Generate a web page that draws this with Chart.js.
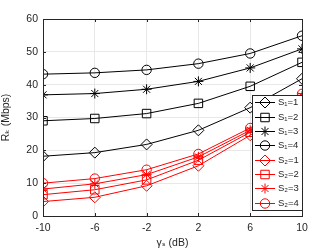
<!DOCTYPE html>
<html>
<head>
<meta charset="utf-8">
<script src="https://cdn.jsdelivr.net/npm/chart.js@4/dist/chart.umd.min.js"></script>
<style>
html,body{margin:0;padding:0;background:#fff;}
#c{display:block;}
</style>
</head>
<body>
<canvas id="c" width="333" height="250"></canvas>
<script>
const categories = [-10, -6, -2, 2, 6, 10];
const yTicks = [0, 10, 20, 30, 40, 50, 60];
const s1_1 = [18.2, 19.3, 21.8, 26.1, 33.0, 41.8];
const s1_2 = [29.0, 29.7, 31.2, 34.3, 39.5, 46.8];
const s1_3 = [36.9, 37.3, 38.6, 41.0, 45.1, 50.9];
const s1_4 = [43.2, 43.6, 44.5, 46.4, 49.5, 54.9];
const s2_1 = [4.4, 5.7, 9.2, 15.3, 24.6, 35.3];
const s2_2 = [6.5, 8.0, 11.0, 17.0, 25.5, 36.0];
const s2_3 = [8.2, 9.8, 12.6, 18.0, 26.1, 36.5];
const s2_4 = [10.0, 11.4, 14.1, 18.9, 26.8, 37.2];
const seriesLabels = ['S\u2081=1','S\u2081=2','S\u2081=3','S\u2081=4','S\u2082=1','S\u2082=2','S\u2082=3','S\u2082=4'];
const seriesData = [s1_1, s1_2, s1_3, s1_4, s2_1, s2_2, s2_3, s2_4];
const styles = ['rectRot','rect','star','circle','rectRot','rect','star','circle'];
const colors = ['#000000','#000000','#000000','#000000','#ff0000','#ff0000','#ff0000','#ff0000'];
const radiusFor = {rectRot: 5.5, rect: 6, star: 5, circle: 4.7};

const datasets = seriesData.map((d, i) => ({
  label: seriesLabels[i],
  data: categories.map((x, j) => ({x: x, y: d[j]})),
  borderColor: colors[i],
  backgroundColor: 'rgba(0,0,0,0)',
  borderWidth: 1,
  pointStyle: styles[i],
  pointRadius: radiusFor[styles[i]],
  pointBorderWidth: 1,
  pointBorderColor: colors[i],
  pointBackgroundColor: 'rgba(0,0,0,0)',
  fill: false,
  tension: 0
}));

const boxPlugin = {
  id: 'box',
  afterDraw(chart) {
    const {ctx, chartArea: a} = chart;
    ctx.save();
    ctx.strokeStyle = '#262626';
    ctx.lineWidth = 1;
    ctx.strokeRect(Math.round(a.left) + 0.5, Math.round(a.top) + 0.5, Math.round(a.right - a.left), Math.round(a.bottom - a.top));
    const xs = chart.scales.x, ys = chart.scales.y;
    ctx.beginPath();
    categories.forEach(v => {
      const px = Math.round(xs.getPixelForValue(v)) + 0.5;
      ctx.moveTo(px, a.bottom); ctx.lineTo(px, a.bottom - 3);
      ctx.moveTo(px, a.top); ctx.lineTo(px, a.top + 3);
    });
    yTicks.forEach(v => {
      const py = Math.round(ys.getPixelForValue(v)) + 0.5;
      ctx.moveTo(a.left, py); ctx.lineTo(a.left + 3, py);
      ctx.moveTo(a.right, py); ctx.lineTo(a.right - 3, py);
    });
    ctx.stroke();

    // legend
    const lx = 252, ly = 95, lw = 50, lh = 115;
    ctx.fillStyle = '#ffffff';
    ctx.fillRect(lx, ly, lw, lh);
    ctx.strokeRect(lx + 0.5, ly + 0.5, lw, lh);
    const step = lh / seriesLabels.length;
    ctx.font = '9.5px "Liberation Sans", Arial, sans-serif';
    ctx.textBaseline = 'middle';
    ctx.textAlign = 'left';
    seriesLabels.forEach((lab, i) => {
      const cy = Math.round(ly + step * (i + 0.5)) + 0.5;
      ctx.strokeStyle = colors[i];
      ctx.lineWidth = 1;
      ctx.beginPath();
      ctx.moveTo(lx + 3, cy); ctx.lineTo(lx + 23, cy);
      ctx.stroke();
      ctx.fillStyle = 'rgba(0,0,0,0)';
      Chart.helpers.drawPoint(ctx, {
        pointStyle: styles[i],
        radius: radiusFor[styles[i]],
        borderWidth: 1,
        rotation: 0
      }, lx + 13, cy);
      ctx.fillStyle = '#262626';
      ctx.fillText(lab, lx + 26, cy);
    });
    ctx.restore();
  }
};

new Chart(document.getElementById('c'), {
  type: 'line',
  data: { datasets: datasets },
  options: {
    responsive: false,
    animation: false,
    layout: { padding: { top: 19, right: 31, left: 0, bottom: 0 } },
    plugins: { legend: { display: false }, tooltip: { enabled: false } },
    scales: {
      x: {
        type: 'linear',
        min: -10, max: 10,
        afterBuildTicks: (s) => { s.ticks = categories.map(v => ({value: v})); },
        afterFit: (s) => { s.height = 34; },
        grid: { color: '#e8e8e8', drawTicks: false },
        border: { display: false },
        ticks: { color: '#262626', font: { family: '"Liberation Sans", Arial, sans-serif', size: 10.5 }, padding: 6 },
        title: { display: true, text: '\u03b3\u209b (dB)', color: '#262626', font: { family: '"Liberation Sans", "DejaVu Sans", sans-serif', size: 10.5 }, padding: { top: 0, bottom: 1 } }
      },
      y: {
        type: 'linear',
        min: 0, max: 60,
        afterBuildTicks: (s) => { s.ticks = yTicks.map(v => ({value: v})); },
        afterFit: (s) => { s.width = 43; },
        grid: { color: '#e8e8e8', drawTicks: false },
        border: { display: false },
        ticks: { color: '#262626', font: { family: '"Liberation Sans", Arial, sans-serif', size: 10.5 }, padding: 5 },
        title: { display: true, text: 'R\u2096 (Mbps)', color: '#262626', font: { family: '"Liberation Sans", "DejaVu Sans", sans-serif', size: 10.5 }, padding: { top: 0, bottom: 4 } }
      }
    }
  },
  plugins: [boxPlugin]
});
</script>
</body>
</html>
